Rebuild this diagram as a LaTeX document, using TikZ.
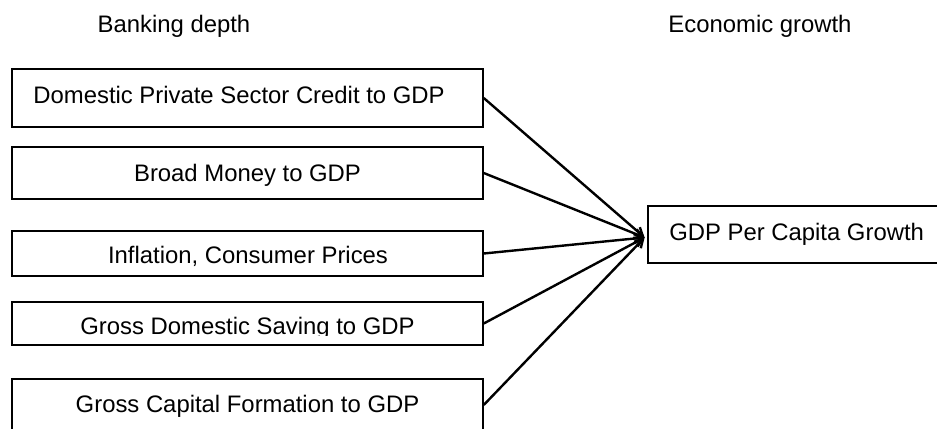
\documentclass[tikz,border=0pt]{standalone}
\usepackage{fontspec}
\setmainfont{Liberation Sans}
\usetikzlibrary{arrows.meta,fit}
\begin{document}
\begin{tikzpicture}[x=0.75pt,y=-0.75pt,
  box/.style={draw=black,line width=1.1pt,rectangle,inner sep=0pt},
  lbl/.style={anchor=base,inner sep=0pt,font=\fontsize{17.9pt}{21pt}\selectfont},
  conn/.style={line width=1.8pt,-{Straight Barb[length=6pt,width=7pt,line width=1.8pt]}}]
\useasboundingbox (0,0) rectangle (937,428);
\clip (0,0) rectangle (937,428);
% headers
\node[lbl] (h1) at (174,33) {Banking depth};
\node[lbl] (h2) at (760,33) {Economic growth};
% boxes
\node[box,fit={(12,69)(483,127)}] (b1) {};
\node[box,fit={(12,147)(483,199)}] (b2) {};
\node[box,fit={(12,231)(483,276)}] (b3) {};
\node[box,fit={(12,302)(483,345)}] (b4) {};
\node[box,fit={(12,379)(483,431)}] (b5) {};
\node[box,fit={(648,206)(950,263)}] (g) {};
% texts
\node[lbl] (t1) at (239,103) {Domestic Private Sector Credit to GDP};
\node[lbl] (t2) at (247.5,181) {Broad Money to GDP};
\node[lbl] (t3) at (248,263) {Inflation, Consumer Prices};
\begin{scope}
\clip (0,0) rectangle (937,335);
\node[lbl] (t4) at (247.5,334) {Gross Domestic Saving to GDP};
\end{scope}
\node[lbl] (t5) at (247.5,412) {Gross Capital Formation to GDP};
\node[lbl,anchor=base west] (tg) at (669,240) {GDP Per Capita Growth};
% connectors
\foreach \b in {b1,b2,b3,b4,b5}
  \draw[conn] (\b.east) -- ([xshift=-2pt,yshift=-2.25pt]g.west);
\end{tikzpicture}
\end{document}
